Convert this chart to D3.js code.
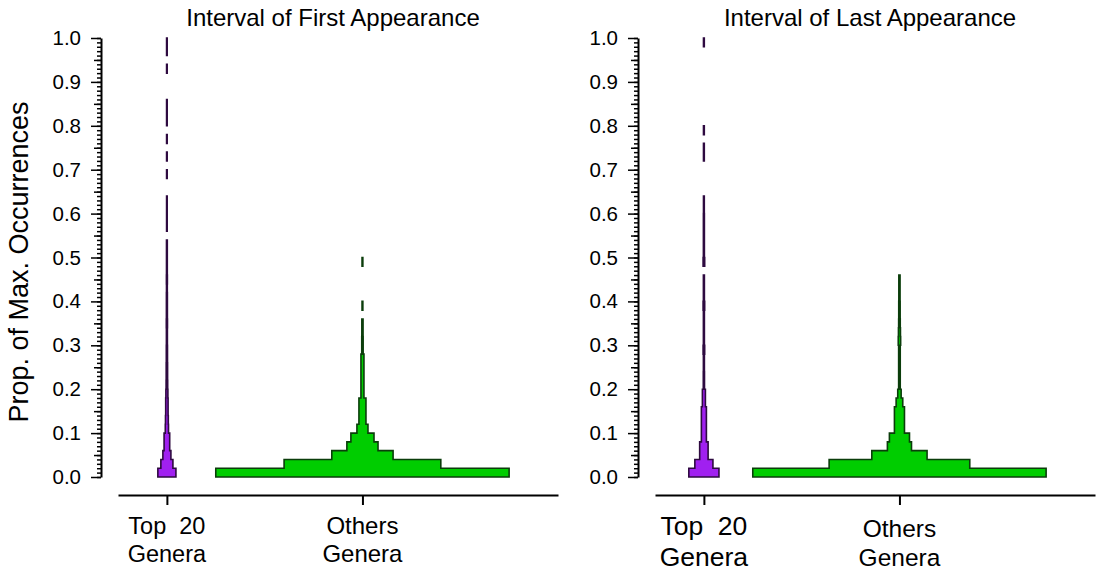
<!DOCTYPE html>
<html lang="en">
<meta charset="utf-8">
<title>Interval of First / Last Appearance</title>
<style>
  body { margin: 0; background: #fff; }
  text { font-family: "Liberation Sans", Arial, sans-serif; fill: #000; }
</style>
<body>
<script src="https://cdn.jsdelivr.net/npm/d3@7"></script>
<script>
// Bins of 0.02 on the proportion axis, lower edge of each bin.
var binSize = 0.02;
var binLo = d3.range(50).map(function(i) { return i * binSize; });

// Spindle half-widths per bin (relative counts), one array per group.
var firstTop20 = [
  9, 6, 4, 2.8, 2.8, 1.6, 1.4, 1.2, 1.2, 1.0,
  0.8, 0.7, 0.7, 0.6, 0.6, 0.5, 0.5, 0.6, 0.5, 0.5,
  0.5, 0.4, 0.5, 0.4, 0.4, 0.4, 0.4, 0, 0.3, 0.3,
  0.3, 0.3, 0, 0, 0.3, 0, 0.3, 0, 0.3, 0,
  0.3, 0.3, 0.3, 0, 0, 0, 0.3, 0, 0.3, 0.3
];
var firstOthers = [
  146, 78, 30.5, 15.5, 11.5, 5.5, 3.5, 3.5, 3.5, 1.5,
  1.5, 1.5, 1.5, 1.5, 0.7, 0.7, 0.6, 0.6, 0, 0.4,
  0, 0, 0, 0, 0.4, 0, 0, 0, 0, 0,
  0, 0, 0, 0, 0, 0, 0, 0, 0, 0,
  0, 0, 0, 0, 0, 0, 0, 0, 0, 0
];
var lastTop20 = [
  15, 9, 4.2, 4.2, 2.5, 2.5, 2.5, 2.5, 1.5, 1.5,
  0.6, 0.6, 0.5, 0.5, 0.8, 0.5, 0.5, 0.5, 0.5, 0.8,
  0.5, 0.5, 0.5, 0, 0.8, 0.5, 0.5, 0.5, 0.5, 0.5,
  0.4, 0.4, 0, 0, 0, 0, 0.4, 0.4, 0, 0.4,
  0, 0, 0, 0, 0, 0, 0, 0, 0, 0.4
];
var lastOthers = [
  146, 70, 27.5, 12, 10, 5, 5, 5, 3.3, 1.7,
  0.8, 0.8, 0.8, 0.8, 0.8, 1.2, 1.0, 0.8, 0.7, 0.7,
  0.6, 0.6, 0.6, 0, 0, 0, 0, 0, 0, 0,
  0, 0, 0, 0, 0, 0, 0, 0, 0, 0,
  0, 0, 0, 0, 0, 0, 0, 0, 0, 0
];

var titles = ["Interval of First Appearance", "Interval of Last Appearance"];
var groupPos = [1, 2];
var groupLabels = [["Top  20", "Genera"], ["Others", "Genera"]];
var yTicks = d3.range(0, 1.0001, 0.1);
var yLabel = "Prop. of Max. Occurrences";

var fills = ["#a020f0", "#00cd00"];
var strokes = ["#2e0a40", "#0b3d0b"];

var svg = d3.select("body").append("svg")
  .attr("width", 1097).attr("height", 573);

var y = d3.scaleLinear().domain([0, 1]).range([477, 38]);
// half-width in x units
var widthScale = d3.scaleLinear().domain([0, 146]).range([0, 0.75]);

// Build a stepped outline for every run of non-empty bins.
function spindlePath(values, pos, x) {
  var d = "";
  var i = 0;
  while (i < values.length) {
    if (!values[i]) { i++; continue; }
    var j = i;
    while (j < values.length && values[j]) j++;
    var left = [], right = [];
    for (var b = i; b < j; b++) {
      var lo = y(binLo[b]), hi = y(binLo[b] + binSize);
      var xl = x(pos - widthScale(values[b])), xr = x(pos + widthScale(values[b]));
      left.push([xl, lo], [xl, hi]);
      right.unshift([xr, hi], [xr, lo]);
    }
    d += "M" + left.concat(right).join("L") + "Z";
    i = j;
  }
  return d;
}

var panels = [
  { ox: 0, title: titles[0], data: [firstTop20, firstOthers],
    labelSize: [23.5, 24], labelBase: [[533.5, 562], [534, 562]] },
  { ox: 537, title: titles[1], data: [lastTop20, lastOthers],
    labelSize: [26.5, 24.5], labelBase: [[535, 566], [537, 566]] }
];

panels.forEach(function(p) {
  var g = svg.append("g");
  var x = d3.scaleLinear().domain([0.75, 3.0]).range([p.ox + 118, p.ox + 558]);
  var axisX = p.ox + 101;

  // spindles
  p.data.forEach(function(vals, k) {
    g.append("path")
      .attr("d", spindlePath(vals, groupPos[k], x))
      .attr("fill", fills[k])
      .attr("stroke", strokes[k])
      .attr("stroke-width", 1.6)
      .attr("stroke-linejoin", "miter");
  });

  // y axis: minor, mid and major ticks
  var minor = g.append("g").attr("transform", "translate(" + axisX + ",0)")
    .call(d3.axisLeft(y).tickValues(d3.range(0, 1.0001, 0.01)).tickSize(4).tickFormat(""));
  minor.select(".domain").remove();
  var mid = g.append("g").attr("transform", "translate(" + axisX + ",0)")
    .call(d3.axisLeft(y).tickValues(d3.range(0.05, 1, 0.1)).tickSize(7).tickFormat(""));
  mid.select(".domain").remove();
  var major = g.append("g").attr("transform", "translate(" + axisX + ",0)")
    .call(d3.axisLeft(y).tickValues(yTicks).tickSize(10).tickSizeOuter(0)
      .tickPadding(10).tickFormat(d3.format(".1f")));
  major.attr("font-size", 20.5).attr("font-family", null);
  [minor, mid, major].forEach(function(a) {
    a.selectAll(".tick line").attr("stroke-width", 1.5);
  });
  major.select(".domain").attr("stroke-width", 2);

  // x axis
  var xa = g.append("g").attr("transform", "translate(0,495)")
    .call(d3.axisBottom(x).tickValues(groupPos).tickSize(10).tickSizeOuter(0).tickFormat(""));
  xa.select(".domain").attr("stroke-width", 2);
  xa.selectAll(".tick line").attr("stroke-width", 2);

  groupPos.forEach(function(pos, k) {
    groupLabels[k].forEach(function(line, li) {
      g.append("text")
        .attr("x", x(pos))
        .attr("y", p.labelBase[k][li])
        .attr("text-anchor", "middle")
        .attr("font-size", p.labelSize[k])
        .style("white-space", "pre")
        .text(line);
    });
  });

  // title
  g.append("text")
    .attr("x", axisX + 232)
    .attr("y", 26)
    .attr("text-anchor", "middle")
    .attr("font-size", 24)
    .text(p.title);
});

svg.append("text")
  .attr("transform", "translate(28," + 262 + ") rotate(-90)")
  .attr("text-anchor", "middle")
  .attr("font-size", 27)
  .text(yLabel);
</script>
</body>
</html>
